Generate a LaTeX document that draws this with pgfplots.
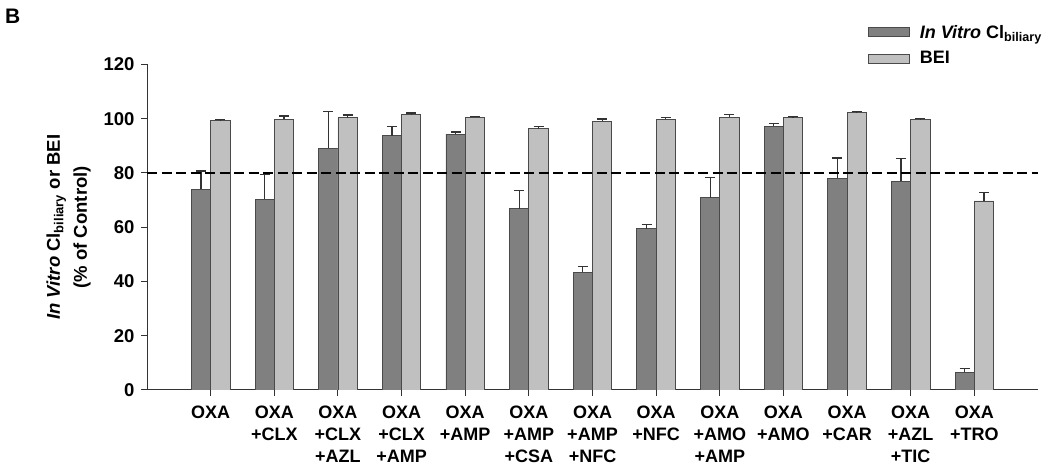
\documentclass[border=0pt]{standalone}
\usepackage{pgfplots}
\usepackage{pgfplotstable}
\pgfplotsset{compat=1.18}
\usepackage{fontspec}
\setmainfont{Liberation Sans}
\definecolor{dk}{HTML}{808080}
\definecolor{lt}{HTML}{C0C0C0}
\definecolor{edge}{HTML}{4A4A4A}
\definecolor{errc}{HTML}{333333}

\pgfplotstableread{
x y e
0 74.0 6.7
1 70.3 9.2
2 89.1 13.5
3 93.8 3.3
4 94.3 0.8
5 66.8 6.6
6 43.4 2.1
7 59.5 1.4
8 70.9 7.5
9 97.2 1.0
10 78.0 7.5
11 76.9 8.4
12 6.5 1.4
}\darkdata

\pgfplotstableread{
x y e
0 99.4 0.2
1 99.9 1.1
2 100.4 1.0
3 101.5 0.6
4 100.5 0.4
5 96.3 0.7
6 99.0 0.9
7 99.8 0.6
8 100.5 1.1
9 100.6 0.2
10 102.2 0.4
11 99.8 0.2
12 69.7 3.0
}\lightdata

\begin{document}
\begin{tikzpicture}
\useasboundingbox (0,0) rectangle (1050bp,468bp);
\node[anchor=base west, inner sep=0pt, font=\fontsize{21bp}{25bp}\selectfont\bfseries] at (5bp,444bp) {B};
\begin{axis}[
  at={(147bp,78bp)}, anchor=south west,
  scale only axis, width=891bp, height=325.5bp,
  xmin=-1, xmax=13, ymin=0, ymax=120,
  axis x line=bottom, axis y line=left,
  axis line style={-, line width=1bp, draw=black!80},
  tick style={line width=1bp, draw=black!80},
  tick align=outside, major tick length=6bp,
  ytick={0,20,...,120},
  xtick={0,...,12},
  xticklabels={OXA, {OXA\\+CLX}, {OXA\\+CLX\\+AZL}, {OXA\\+CLX\\+AMP}, {OXA\\+AMP}, {OXA\\+AMP\\+CSA}, {OXA\\+AMP\\+NFC}, {OXA\\+NFC}, {OXA\\+AMO\\+AMP}, {OXA\\+AMO}, {OXA\\+CAR}, {OXA\\+AZL\\+TIC}, {OXA\\+TRO}},
  xticklabel style={align=center, font=\fontsize{18bp}{22bp}\selectfont\bfseries, yshift=-6bp},
  yticklabel style={font=\fontsize{18.5bp}{21bp}\selectfont\bfseries, xshift=-3bp},
  /pgf/number format/assume math mode=true,
  ylabel={\textit{In Vitro} Cl\textsubscript{biliary} or BEI\\(\% of Control)},
  ylabel style={align=center, font=\fontsize{18.5bp}{27bp}\selectfont\bfseries, at={(axis description cs:-0.088,0.5)}, anchor=center},
  legend style={at={(axis description cs:0.809,1.059)}, anchor=west, draw=none, fill=none, inner sep=0pt, font=\fontsize{18bp}{20bp}\selectfont\bfseries, row sep=8bp, column sep=8bp},
  legend cell align=left,
]
\addplot[ybar, bar width=0.303, bar shift=0, fill=dk, draw=edge, line width=0.8bp,
  legend image code/.code={\draw[fill=dk, draw=edge, line width=0.8bp] (0bp,-4.5bp) rectangle (41bp,4.5bp);},
  error bars/.cd, y dir=plus, y explicit,
  error bar style={draw=errc, line width=1.2bp},
  error mark options={rotate=90, mark size=5bp, draw=errc, line width=1.2bp}]
  table[x expr=\thisrow{x}-0.1515, y=y, y error=e] {\darkdata};
\addlegendentry{\textit{In Vitro} Cl\textsubscript{biliary}}
\addplot[ybar, bar width=0.303, bar shift=0, fill=lt, draw=edge, line width=0.8bp,
  legend image code/.code={\draw[fill=lt, draw=edge, line width=0.8bp] (0bp,-4.5bp) rectangle (41bp,4.5bp);},
  error bars/.cd, y dir=plus, y explicit,
  error bar style={draw=errc, line width=1.2bp},
  error mark options={rotate=90, mark size=5bp, draw=errc, line width=1.2bp}]
  table[x expr=\thisrow{x}+0.1515, y=y, y error=e] {\lightdata};
\addlegendentry{BEI}
\addplot[black, line width=2.6bp, dash pattern=on 10bp off 4.5bp, forget plot] coordinates {(-1,80) (13,80)};
\end{axis}
\end{tikzpicture}
\end{document}
